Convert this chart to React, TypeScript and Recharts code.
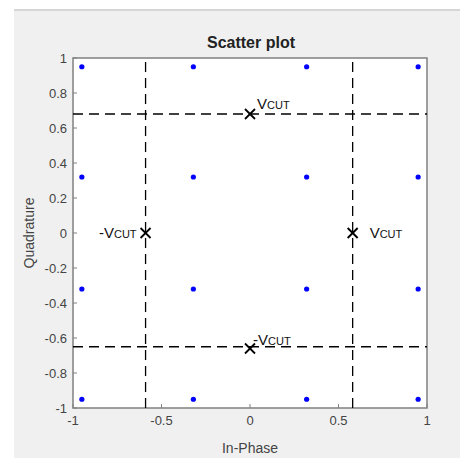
import React from "react"
import { ScatterChart, Scatter, XAxis, YAxis, ReferenceLine, ReferenceArea } from "recharts"

// 16-QAM constellation
const levels = [-0.95, -0.32, 0.32, 0.95]
const constellation = levels.flatMap(i => levels.map(q => ({ x: i, y: q })))

const xTicks = [-1, -0.5, 0, 0.5, 1]
const yTicks = [-1, -0.8, -0.6, -0.4, -0.2, 0, 0.2, 0.4, 0.6, 0.8, 1]

// cut thresholds (dashed lines)
const cutX = [-0.59, 0.58]
const cutY = [0.68, -0.65]

// x markers and their labels
const cutMarkers = [
    { name: "top", x: 0, y: 0.68, sign: "" },
    { name: "left", x: -0.59, y: 0, sign: "-" },
    { name: "right", x: 0.58, y: 0, sign: "" },
    { name: "bottom", x: 0, y: -0.66, sign: "-" },
]

const labelPlacement: Record<string, { dx: number; dy: number; anchor: "start" | "end" }> = {
    top: { dx: 7, dy: -5, anchor: "start" },
    left: { dx: -9, dy: 5, anchor: "end" },
    right: { dx: 17, dy: 5, anchor: "start" },
    bottom: { dx: 3, dy: -4, anchor: "start" },
}

const axisColor = "#808080"
const textColor = "#444"
const font = "Arial, 'Liberation Sans', Helvetica, sans-serif"

const Dot = (props: any) => {
    const { cx, cy } = props
    return <circle cx={cx} cy={cy} r={2.6} fill="#0000ff" />
}

const CutMarker = (props: any) => {
    const { cx, cy, payload } = props
    const p = labelPlacement[payload.name]
    const s = 5
    return (
        <g>
            <line x1={cx - s} y1={cy - s} x2={cx + s} y2={cy + s} stroke="#000" strokeWidth={1.8} />
            <line x1={cx - s} y1={cy + s} x2={cx + s} y2={cy - s} stroke="#000" strokeWidth={1.8} />
            <text x={cx + p.dx} y={cy + p.dy} textAnchor={p.anchor} fill="#111" fontFamily={font} fontSize={15}>
                {payload.sign}V<tspan fontSize={11}>CUT</tspan>
            </text>
        </g>
    )
}

export default function App() {
    return (
        <div style={{ position: "absolute", left: 0, top: 0, width: 460, height: 458, background: "#fff" }}>
            <div style={{ position: "absolute", left: 14, top: 9, width: 446, height: 449, background: "#f0f0f0", borderTop: "2px solid #d6d6d6" }} />
            <div style={{ position: "absolute", left: 0, top: 0 }}>
                <ScatterChart width={460} height={458} margin={{ top: 58, right: 33, bottom: 20, left: 0 }}>
                    <XAxis
                        dataKey="x"
                        type="number"
                        domain={[-1, 1]}
                        ticks={xTicks}
                        allowDataOverflow
                        height={30}
                        axisLine={false}
                        tickSize={-4}
                        tickMargin={12}
                        tickLine={{ stroke: axisColor }}
                        tick={{ fill: textColor, fontSize: 13, fontFamily: font }}
                        label={{ value: "In-Phase", position: "insideBottom", offset: -15, fill: textColor, fontSize: 14, fontFamily: font }}
                    />
                    <XAxis
                        xAxisId="top"
                        orientation="top"
                        type="number"
                        domain={[-1, 1]}
                        ticks={xTicks}
                        height={0}
                        axisLine={false}
                        tickSize={-4}
                        tickLine={{ stroke: axisColor }}
                        tick={() => <g />}
                    />
                    <YAxis
                        dataKey="y"
                        type="number"
                        domain={[-1, 1]}
                        ticks={yTicks}
                        allowDataOverflow
                        width={73}
                        axisLine={false}
                        tickSize={-4}
                        tickMargin={10}
                        tickLine={{ stroke: axisColor }}
                        tick={{ fill: textColor, fontSize: 13, fontFamily: font }}
                        label={{ value: "Quadrature", angle: -90, position: "insideLeft", offset: 29, fill: textColor, fontSize: 14, fontFamily: font, style: { textAnchor: "middle" } }}
                    />
                    <YAxis
                        yAxisId="right"
                        orientation="right"
                        type="number"
                        domain={[-1, 1]}
                        ticks={yTicks}
                        width={0}
                        axisLine={false}
                        tickSize={-4}
                        tickLine={{ stroke: axisColor }}
                        tick={() => <g />}
                    />
                    <ReferenceArea x1={-1} x2={1} y1={-1} y2={1} fill="#fff" fillOpacity={1} stroke={axisColor} strokeWidth={1.5} />
                    {cutX.map(v => (
                        <ReferenceLine key={"vx" + v} x={v} stroke="#000" strokeWidth={1.3} strokeDasharray="10 6" />
                    ))}
                    {cutY.map(v => (
                        <ReferenceLine key={"hy" + v} y={v} stroke="#000" strokeWidth={1.3} strokeDasharray="10 6" />
                    ))}
                    <Scatter data={constellation} shape={Dot} isAnimationActive={false} />
                    <Scatter data={cutMarkers} shape={CutMarker} isAnimationActive={false} />
                    <text x={251} y={48} textAnchor="middle" fill="#222" fontFamily={font} fontSize={16} fontWeight="bold">
                        Scatter plot
                    </text>
                </ScatterChart>
            </div>
        </div>
    )
}
